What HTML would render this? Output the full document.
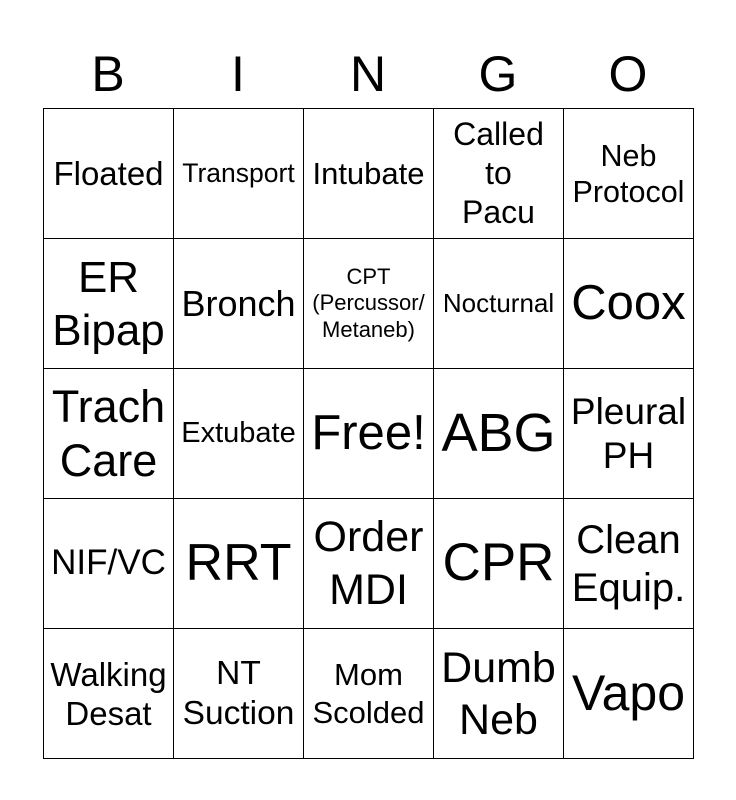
<!DOCTYPE html>
<html><head><meta charset="utf-8"><style>
html,body{margin:0;padding:0;background:#fff;width:736px;height:800px;overflow:hidden;font-family:"Liberation Sans",Arial,sans-serif;color:#000}
.hdr{position:absolute;top:44px;left:43px;width:650px;display:flex}
.hdr div{width:130px;text-align:center;font-size:50px;line-height:60px}
table{position:absolute;left:43px;top:108px;border-collapse:collapse;table-layout:fixed}
td{width:129px;height:129px;border:1px solid #000;text-align:center;vertical-align:middle;padding:0;line-height:1.15;white-space:nowrap}
</style></head><body>
<div class="hdr"><div>B</div><div>I</div><div>N</div><div>G</div><div>O</div></div>
<table>
<tr>
<td style="font-size:33px">Floated</td>
<td style="font-size:26.5px">Transport</td>
<td style="font-size:31px">Intubate</td>
<td style="font-size:32px;line-height:39px">Called<br>to<br>Pacu</td>
<td style="font-size:30.5px;line-height:36px">Neb<br>Protocol</td>
</tr>
<tr>
<td style="font-size:44px;line-height:53px">ER<br>Bipap</td>
<td style="font-size:36px">Bronch</td>
<td style="font-size:22px;line-height:26.5px">CPT<br>(Percussor/<br>Metaneb)</td>
<td style="font-size:26px">Nocturnal</td>
<td style="font-size:49px">Coox</td>
</tr>
<tr>
<td style="font-size:45px;line-height:54px">Trach<br>Care</td>
<td style="font-size:29px">Extubate</td>
<td style="font-size:49px">Free!</td>
<td style="font-size:54px">ABG</td>
<td style="font-size:37px;line-height:44px">Pleural<br>PH</td>
</tr>
<tr>
<td style="font-size:35px">NIF/VC</td>
<td style="font-size:52px">RRT</td>
<td style="font-size:43px;line-height:53px">Order<br>MDI</td>
<td style="font-size:53px">CPR</td>
<td style="font-size:40px;line-height:48px">Clean<br>Equip.</td>
</tr>
<tr>
<td style="font-size:33px;line-height:39px">Walking<br>Desat</td>
<td style="font-size:33.5px;line-height:40px">NT<br>Suction</td>
<td style="font-size:31px;line-height:38px">Mom<br>Scolded</td>
<td style="font-size:43px;line-height:52px">Dumb<br>Neb</td>
<td style="font-size:50px">Vapo</td>
</tr>
</table>
</body></html>
